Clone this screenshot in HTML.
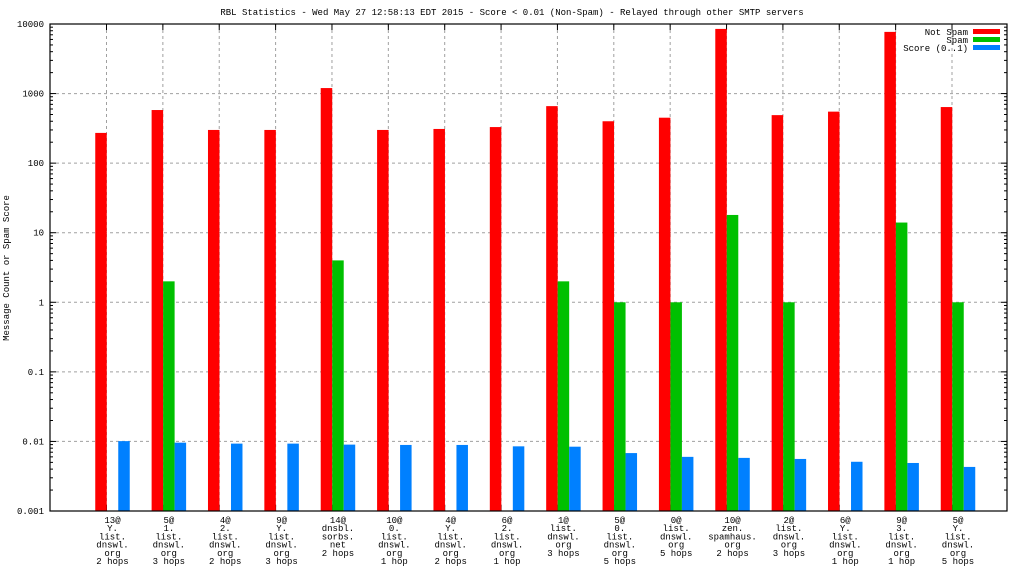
<!DOCTYPE html>
<html><head><meta charset="utf-8"><style>
body{margin:0;background:#fff;}
svg text{font-family:"Liberation Mono",monospace;font-size:9px;fill:#000;}
</style></head><body>
<svg id="c" width="1024" height="576" viewBox="0 0 1024 576"></svg>
<script>
const categories=[["13@","Y.","list.","dnswl.","org","2 hops"],["5@","1.","list.","dnswl.","org","3 hops"],["4@","2.","list.","dnswl.","org","2 hops"],["9@","Y.","list.","dnswl.","org","3 hops"],["14@","dnsbl.","sorbs.","net","2 hops"],["10@","0.","list.","dnswl.","org","1 hop"],["4@","Y.","list.","dnswl.","org","2 hops"],["6@","2.","list.","dnswl.","org","1 hop"],["1@","list.","dnswl.","org","3 hops"],["5@","0.","list.","dnswl.","org","5 hops"],["0@","list.","dnswl.","org","5 hops"],["10@","zen.","spamhaus.","org","2 hops"],["2@","list.","dnswl.","org","3 hops"],["6@","Y.","list.","dnswl.","org","1 hop"],["9@","3.","list.","dnswl.","org","1 hop"],["5@","Y.","list.","dnswl.","org","5 hops"]];
const notSpam=[272,580,300,300,1200,300,310,330,660,400,450,8500,490,550,7700,640];
const spam=[0,2,0,0,4,0,0,0,2,1,1,18,1,0,14,1];
const score=[0.0101,0.0096,0.0093,0.0093,0.0090,0.0089,0.0089,0.0085,0.0084,0.0068,0.0060,0.0058,0.0056,0.0051,0.0049,0.0043];
const yTicks=[10000,1000,100,10,1,0.1,0.01,0.001];
const yTickLabels=["10000","1000","100","10","1","0.1","0.01","0.001"];
const legendLabels=["Not Spam","Spam","Score (0..1)"];
const colors=["#ff0000","#00c000","#0080ff"];

const svg=document.getElementById('c');
const NS='http://www.w3.org/2000/svg';
const L=50,R=1007,T=24,B=511;
const yMin=-3,yMax=4;
function y(v){return T+(yMax-Math.log10(v))/(yMax-yMin)*(B-T);}
function xc(i){return 112.5+i*(958-112.5)/(categories.length-1);}
const bw=11.5;
function el(tag,attrs,parent){const e=document.createElementNS(NS,tag);for(const k in attrs)e.setAttribute(k,attrs[k]);(parent||svg).appendChild(e);return e;}

const title=el('text',{x:512,y:15,'text-anchor':'middle'});


title.textContent='RBL Statistics - Wed May 27 12:58:13 EDT 2015 - Score < 0.01 (Non-Spam) - Relayed through other SMTP servers';

const yt=el('text',{x:0,y:0,'text-anchor':'middle',transform:'translate(9,268) rotate(-90)'});


yt.textContent='Message Count or Spam Score';

// grid + ticks
yTicks.forEach((v,i)=>{
  const yy=y(v);
  if(i>0&&i<yTicks.length-1){const g=el('line',{x1:L,x2:R,y1:yy,y2:yy,stroke:'#a0a0a0','stroke-dasharray':'3,3'});
  
  }
  const t=el('text',{x:44,y:yy+3,'text-anchor':'end'});
  
  
  t.textContent=yTickLabels[i];
  el('line',{x1:L,x2:L+6,y1:yy,y2:yy,stroke:'#000'});
  el('line',{x1:R,x2:R-6,y1:yy,y2:yy,stroke:'#000'});
  if(i>0){for(let m=2;m<10;m++){const my=y(v*m);el('line',{x1:L,x2:L+3,y1:my,y2:my,stroke:'#000'});el('line',{x1:R,x2:R-3,y1:my,y2:my,stroke:'#000'});}}
});
categories.forEach((c,i)=>{
  const gx=xc(i)-6;
  const g=el('line',{x1:gx,x2:gx,y1:T,y2:B,stroke:'#a0a0a0','stroke-dasharray':'3,3'});
  
  
  el('line',{x1:gx,x2:gx,y1:T,y2:T+6,stroke:'#000'});
  el('line',{x1:gx,x2:gx,y1:B,y2:B-6,stroke:'#000'});
  const t=el('text',{x:xc(i),y:B+12,'text-anchor':'middle'});
  
  
  c.forEach((line,j)=>{const s=el('tspan',{x:xc(i),dy:j?8.2:0},t);s.textContent=line;});
});
// bars
const series=[notSpam,spam,score];
series.forEach((arr,s)=>{
  arr.forEach((v,i)=>{
    if(!(v>0))return;
    const x0=xc(i)-bw*1.5+s*bw;
    const yy=Math.max(T,y(v));
    const r=el('rect',{x:x0,y:yy,width:bw,height:B-yy,fill:colors[s]});
    
    
  });
});
// border
const bd=el('rect',{x:L,y:T,width:R-L,height:B-T,fill:'none',stroke:'#000','stroke-width':1.2});


// legend
legendLabels.forEach((lab,i)=>{
  const yy=35+i*8;
  const t=el('text',{x:968,y:yy,'text-anchor':'end'});
  
  
  t.textContent=lab;
  const r=el('rect',{x:973,y:yy-6,width:27,height:5,fill:colors[i]});
  
  
});
</script>
</body></html>
